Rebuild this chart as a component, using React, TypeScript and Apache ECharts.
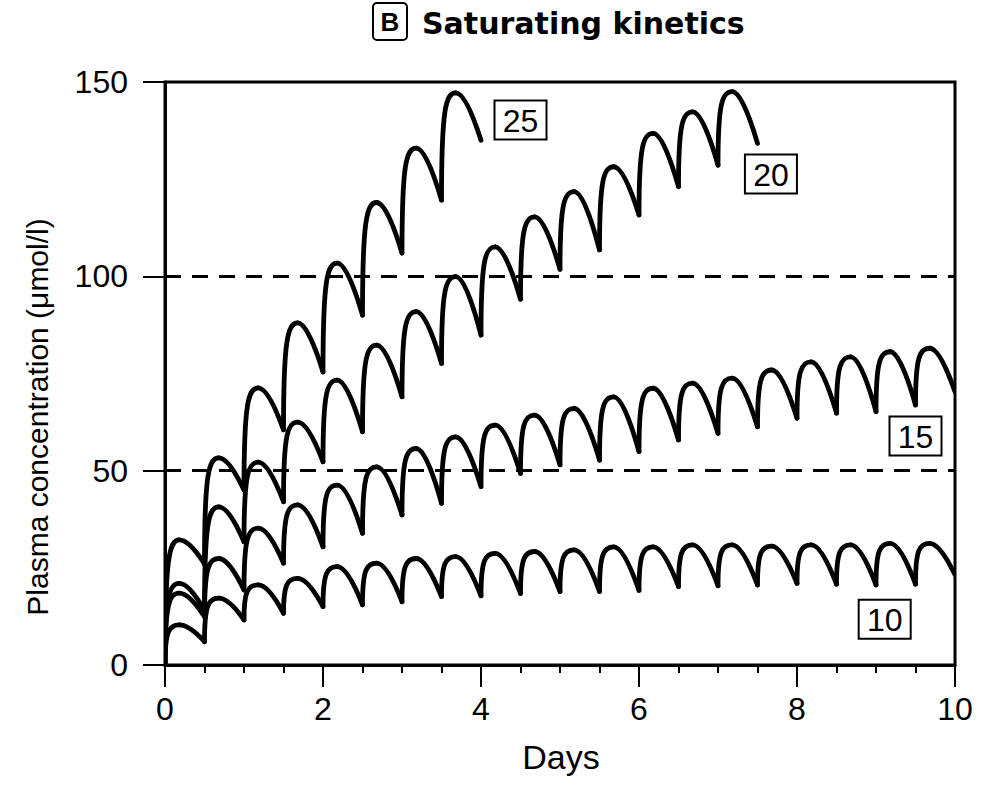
import React, { useEffect, useRef } from "react";
import * as echarts from "echarts";

// Dose times (days) and readings at each dose (trough before the dose) and peak after it
const doseDays = [0, 0.5, 1, 1.5, 2, 2.5, 3, 3.5, 4, 4.5, 5, 5.5, 6, 6.5, 7, 7.5, 8, 8.5, 9, 9.5, 10];
const PEAK_LAG = 0.18;

const troughs10 = [0, 6.0, 11.6, 13.3, 15.0, 15.5, 16.3, 17.6, 17.8, 18.4, 18.9, 18.9, 19.2, 20.2, 20.4, 20.6, 21.0, 20.8, 20.6, 20.8, 23.2];
const peaks10 = [10.3, 17.2, 20.6, 22.3, 25.3, 26.2, 27.4, 27.9, 28.7, 29.2, 29.6, 30.4, 30.4, 30.9, 30.9, 30.6, 30.9, 30.9, 31.3, 31.3];

const troughs15 = [0, 12.4, 19.3, 26.2, 30.4, 33.9, 38.6, 41.6, 45.9, 49.3, 51.5, 52.7, 54.9, 57.9, 59.6, 61.3, 63.5, 64.8, 65.2, 66.9, 70.3];
const peaks15 = [18.5, 27.4, 35.2, 41.2, 46.3, 51.0, 55.7, 58.7, 61.7, 64.3, 66.0, 69.0, 71.2, 72.5, 73.8, 75.9, 78.0, 79.3, 80.6, 81.5];

const troughs20 = [0, 14, 31.7, 42, 52.3, 60, 69, 77.6, 84.9, 94.1, 101.8, 106.8, 115.8, 123.1, 128.6, 134.2];
const peaks20 = [21, 40.7, 52.2, 62.5, 73.3, 82.3, 90.9, 99.9, 107.6, 115.3, 121.8, 128.2, 136.8, 142.3, 147.5];

const troughs25 = [0, 26, 45, 60.5, 75.4, 90, 106, 119.6, 135];
const peaks25 = [32.2, 53.3, 71.3, 88, 103.4, 119, 133, 147.2];

const curveLabels = ["10", "15", "20", "25"];
const labelDays = [9.11, 9.5, 7.67, 4.5];
const labelValues = [11.8, 58.9, 126.3, 140.2];

const referenceLevels = [50, 100];

const FONT = "'Liberation Sans', Arial, Helvetica, sans-serif";

function cycles(peaks: number[], troughs: number[]) {
  return peaks.map((p, i) => [doseDays[i], troughs[i], p, doseDays[i + 1], troughs[i + 1]]);
}

const renderCycle = (_params: any, api: any) => {
  const t0 = api.value(0);
  const v0 = api.value(1);
  const vp = api.value(2);
  const t1 = api.value(3);
  const v1 = api.value(4);
  const a = api.coord([t0, v0]);
  const b = api.coord([t0 + PEAK_LAG, vp]);
  const c = api.coord([t1, v1]);
  const style = { stroke: "#000", lineWidth: 4.8, fill: null, lineCap: "round" };
  return {
    type: "group",
    children: [
      {
        type: "bezierCurve",
        shape: {
          x1: a[0], y1: a[1],
          cpx1: a[0], cpy1: a[1] + (b[1] - a[1]) * 0.85,
          cpx2: a[0] + (b[0] - a[0]) * 0.3, cpy2: b[1],
          x2: b[0], y2: b[1],
        },
        style,
      },
      {
        type: "bezierCurve",
        shape: {
          x1: b[0], y1: b[1],
          cpx1: b[0] + (c[0] - b[0]) * 0.32, cpy1: b[1],
          cpx2: c[0] - (c[0] - b[0]) * 0.3, cpy2: b[1] + (c[1] - b[1]) * 0.5,
          x2: c[0], y2: c[1],
        },
        style,
      },
    ],
  };
};

const renderLabel = (params: any, api: any) => {
  const p = api.coord([api.value(0), api.value(1)]);
  const text = curveLabels[params.dataIndex];
  const w = 52;
  const h = 39;
  return {
    type: "group",
    children: [
      {
        type: "rect",
        shape: { x: p[0] - w / 2, y: p[1] - h / 2, width: w, height: h },
        style: { fill: "#fff", stroke: "#000", lineWidth: 2 },
      },
      {
        type: "text",
        x: p[0],
        y: p[1] + 1,
        style: {
          text,
          font: `32px ${FONT}`,
          fill: "#000",
          textAlign: "center",
          textVerticalAlign: "middle",
        },
      },
    ],
  };
};

function curveSeries(name: string, peaks: number[], troughs: number[]) {
  return {
    name,
    type: "custom",
    renderItem: renderCycle,
    clip: true,
    encode: { x: [0, 3], y: [1, 2, 4] },
    data: cycles(peaks, troughs),
    z: 3,
  };
}

export default function App() {
  const ref = useRef<HTMLDivElement>(null);

  useEffect(() => {
    if (!ref.current) return;
    const chart = echarts.init(ref.current, undefined, { renderer: "svg" });
    chart.setOption({
      animation: false,
      backgroundColor: "#fff",
      grid: {
        left: 165,
        right: 32,
        top: 82,
        bottom: 120,
        show: true,
        borderColor: "#000",
        borderWidth: 3,
        backgroundColor: "transparent",
      },
      xAxis: {
        type: "value",
        min: 0,
        max: 10,
        interval: 2,
        axisLine: { show: true, lineStyle: { color: "#000", width: 3 } },
        axisTick: { show: true, length: 22, lineStyle: { color: "#000", width: 2 } },
        minorTick: { show: true, splitNumber: 4, length: 8, lineStyle: { color: "#000", width: 2 } },
        splitLine: { show: false },
        minorSplitLine: { show: false },
        axisLabel: { color: "#000", fontSize: 32, fontFamily: FONT, margin: 28 },
      },
      yAxis: {
        type: "value",
        min: 0,
        max: 150,
        interval: 50,
        axisLine: { show: true, lineStyle: { color: "#000", width: 3 } },
        axisTick: { show: true, length: 22, lineStyle: { color: "#000", width: 2 } },
        splitLine: { show: false },
        axisLabel: { color: "#000", fontSize: 32, fontFamily: FONT, margin: 37 },
      },
      graphic: [
        {
          type: "rect",
          shape: { x: 373, y: 3, width: 34, height: 37, r: 4 },
          style: { fill: "#fff", stroke: "#000", lineWidth: 2 },
        },
        {
          type: "text",
          x: 390,
          y: 22,
          style: {
            text: "B",
            font: `bold 26px ${FONT}`,
            fill: "#000",
            textAlign: "center",
            textVerticalAlign: "middle",
          },
        },
        {
          type: "text",
          x: 422,
          y: 23,
          style: {
            text: "Saturating kinetics",
            font: "bold 30px 'DejaVu Sans', sans-serif",
            fill: "#000",
            textAlign: "left",
            textVerticalAlign: "middle",
          },
        },
        {
          type: "text",
          x: 37,
          y: 417,
          rotation: Math.PI / 2,
          style: {
            text: "Plasma concentration (μmol/l)",
            font: `30px ${FONT}`,
            fill: "#000",
            textAlign: "center",
            textVerticalAlign: "middle",
          },
        },
        {
          type: "text",
          x: 561,
          y: 757,
          style: {
            text: "Days",
            font: `34px ${FONT}`,
            fill: "#000",
            textAlign: "center",
            textVerticalAlign: "middle",
          },
        },
      ],
      series: [
        curveSeries("10", peaks10, troughs10),
        curveSeries("15", peaks15, troughs15),
        curveSeries("20", peaks20, troughs20),
        curveSeries("25", peaks25, troughs25),
        {
          name: "labels",
          type: "custom",
          renderItem: renderLabel,
          clip: false,
          z: 4,
          encode: { x: 0, y: 1 },
          data: labelDays.map((d, i) => [d, labelValues[i]]),
          markLine: {
            silent: true,
            symbol: ["none", "none"],
            label: { show: false },
            lineStyle: { type: [16, 11], color: "#000", width: 3 },
            data: referenceLevels.map((v) => ({ yAxis: v })),
          },
        },
      ],
    });
    return () => chart.dispose();
  }, []);

  return (
    <div
      ref={ref}
      style={{ position: "absolute", left: 0, top: 0, width: 987, height: 785 }}
    />
  );
}
